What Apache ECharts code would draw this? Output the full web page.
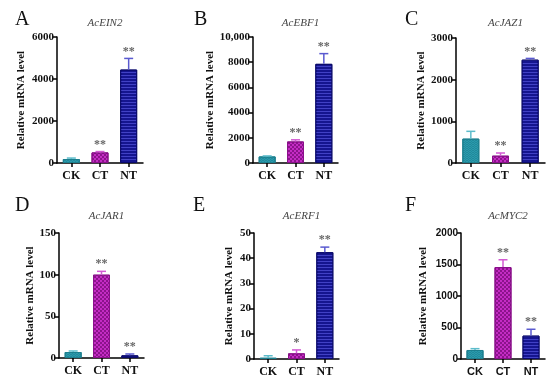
<!DOCTYPE html>
<html><head><meta charset="utf-8">
<script src="https://cdn.jsdelivr.net/npm/echarts@6/dist/echarts.min.js"></script>
<style>html,body{margin:0;padding:0;background:#fff}#c{width:550px;height:380px}</style>
</head><body><div id="c"></div>
<script>
var categories = ['CK', 'CT', 'NT'];
var panelLetters = ['A', 'B', 'C', 'D', 'E', 'F'];
var genes = ['AcEIN2', 'AcEBF1', 'AcJAZ1', 'AcJAR1', 'AcERF1', 'AcMYC2'];

var valuesEIN2 = [190, 505, 4450];   var errEIN2 = [45, 40, 530];   var sigEIN2 = ['', '**', '**'];
var valuesEBF1 = [520, 1710, 7870];  var errEBF1 = [40, 130, 810];  var sigEBF1 = ['', '**', '**'];
var valuesJAZ1 = [585, 176, 2480];   var errJAZ1 = [175, 64, 30];   var sigJAZ1 = ['', '**', '**'];
var valuesJAR1 = [7.2, 100, 3.2];    var errJAR1 = [1.2, 4, 1.6];   var sigJAR1 = ['', '**', '**'];
var valuesERF1 = [0.5, 2.25, 42.4];  var errERF1 = [0.8, 1.35, 2];  var sigERF1 = ['', '*', '**'];
var valuesMYC2 = [143, 1459, 371];   var errMYC2 = [21, 116, 101];  var sigMYC2 = ['', '**', '**'];

var yMax = [6000, 10000, 3000, 150, 50, 2000];
var yInterval = [2000, 2000, 1000, 50, 10, 500];

var allValues = [valuesEIN2, valuesEBF1, valuesJAZ1, valuesJAR1, valuesERF1, valuesMYC2];
var allErr = [errEIN2, errEBF1, errJAZ1, errJAR1, errERF1, errMYC2];
var allSig = [sigEIN2, sigEBF1, sigJAZ1, sigJAR1, sigERF1, sigMYC2];

var grids = [
  {left: 57, top: 37, width: 86, height: 126},
  {left: 253, top: 37, width: 85, height: 126},
  {left: 456, top: 38, width: 89, height: 125},
  {left: 59, top: 233, width: 85, height: 125},
  {left: 254, top: 233, width: 85, height: 126},
  {left: 461, top: 233, width: 84, height: 126}
];
var nameGaps = [30, 36, 27, 22, 19, 32];
var letterPos = [[10, 5], [189, 5], [400, 5], [10, 191], [188, 191], [400, 191]];

var barStyles = [
  {color: '#2a9aac', borderColor: '#1c7f8e', borderWidth: 1,
   decal: {symbol: 'rect', symbolSize: 1, dashArrayX: [[1, 2], [0, 1, 2, 0]], dashArrayY: [1, 0], color: 'rgba(20,110,125,0.35)'}},
  {color: '#c42cc4', borderColor: '#8a108a', borderWidth: 1,
   decal: {symbol: 'rect', symbolSize: 1, dashArrayX: [[2, 2], [0, 2, 2, 0]], dashArrayY: [2, 0], color: 'rgba(95,0,95,0.55)'}},
  {color: '#15158f', borderColor: '#0a0a6a', borderWidth: 1,
   decal: {symbol: 'rect', symbolSize: 1, dashArrayX: [1, 0], dashArrayY: [1, 2], color: 'rgba(80,80,215,0.75)'}}
];
var errColors = ['#5cbccb', '#d35ad3', '#5a5ad0'];

var serif = '"Liberation Serif", "Times New Roman", serif';
var sans = '"Liberation Sans", Arial, sans-serif';

var errDataLookup = {};
for (var j = 0; j < 6; j++) { errDataLookup[j * 2 + 1] = allSig[j]; }

var option = {
  backgroundColor: '#fff',
  animation: false,
  title: [],
  grid: [], xAxis: [], yAxis: [], series: []
};

for (var i = 0; i < 6; i++) {
  var g = grids[i];
  var lblFont = (i === 5) ? sans : serif;
  option.grid.push(g);
  option.title.push({
    text: genes[i], left: g.left + g.width / 2, top: i < 3 ? 13 : 206, textAlign: 'center',
    textStyle: {fontFamily: serif, fontStyle: 'italic', fontWeight: 'normal', fontSize: 11, color: '#444'}
  });
  option.title.push({
    text: panelLetters[i], left: letterPos[i][0], top: letterPos[i][1],
    textStyle: {fontFamily: serif, fontWeight: 'normal', fontSize: 20, color: '#111'}
  });
  option.xAxis.push({
    type: 'category', gridIndex: i, data: categories,
    axisLine: {lineStyle: {color: '#000', width: 1.5}},
    axisTick: {show: true, alignWithLabel: true, length: 4, lineStyle: {color: '#000', width: 1.5}},
    axisLabel: {fontFamily: lblFont, fontWeight: 'bold', fontSize: (i === 5 ? 11 : 12), color: '#111', margin: 7}
  });
  option.yAxis.push({
    type: 'value', gridIndex: i, min: 0, max: yMax[i], interval: yInterval[i],
    name: 'Relative mRNA level', nameLocation: 'middle', nameGap: nameGaps[i],
    nameTextStyle: {fontFamily: serif, fontWeight: 'bold', fontSize: 11, color: '#111'},
    axisLine: {show: true, lineStyle: {color: '#000', width: 1.5}},
    axisTick: {show: true, length: 4, lineStyle: {color: '#000', width: 1.5}},
    splitLine: {show: false},
    axisLabel: {fontFamily: lblFont, fontWeight: 'bold', fontSize: (i === 5 ? 10 : 11), color: '#111', margin: 3,
      formatter: function (v) { return v === 10000 ? '10,000' : String(v); }}
  });
  var vals = allValues[i];
  option.series.push({
    type: 'bar', xAxisIndex: i, yAxisIndex: i, barWidth: 17,
    data: vals.map(function (v, k) { return {value: v, itemStyle: barStyles[k]}; }),
    z: 2
  });
  var errData = vals.map(function (v, k) { return [k, v, allErr[i][k]]; });
  option.series.push({
    type: 'custom', xAxisIndex: i, yAxisIndex: i, z: 3,
    data: errData,
    renderItem: function (params, api) {
      var k = api.value(0), v = api.value(1), e = api.value(2);
      var sig = errDataLookup[params.seriesIndex][params.dataIndex];
      var p0 = api.coord([k, v]);
      var p1 = api.coord([k, v + e]);
      var col = errColors[k];
      var children = [
        {type: 'line', shape: {x1: p0[0], y1: p0[1], x2: p1[0], y2: p1[1]}, style: {stroke: col, lineWidth: 1.5}},
        {type: 'line', shape: {x1: p1[0] - 4.5, y1: p1[1], x2: p1[0] + 4.5, y2: p1[1]}, style: {stroke: col, lineWidth: 1.5}}
      ];
      if (sig) {
        children.push({type: 'text', x: p1[0], y: p1[1] - 1,
          style: {text: sig, fill: '#666', font: 'bold 12px ' + serif, textAlign: 'center', textVerticalAlign: 'bottom'}});
      }
      return {type: 'group', children: children};
    }
  });
}

var chart = echarts.init(document.getElementById('c'), null, {renderer: 'canvas'});
chart.setOption(option);
</script></body></html>
